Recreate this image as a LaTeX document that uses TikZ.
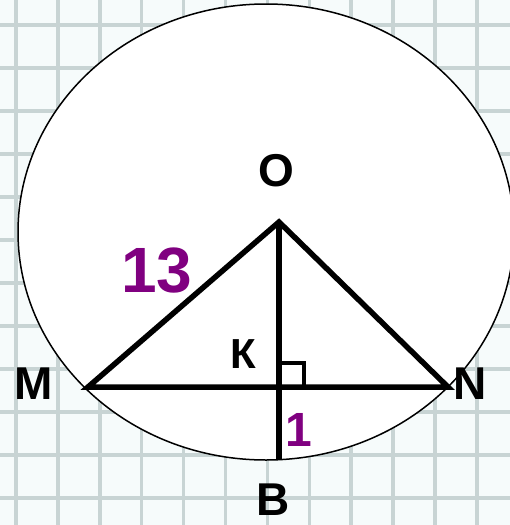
\documentclass[tikz,border=0pt]{standalone}
\usepackage{fontspec}
\setmainfont{Liberation Sans}
\usetikzlibrary{positioning,calc}
\definecolor{cellbg}{RGB}{246,251,251}
\definecolor{gridcol}{RGB}{200,212,212}
\definecolor{numcol}{RGB}{128,0,128}

\begin{document}
\begin{tikzpicture}[
  x=1pt, y=-1pt,
  gridline/.style={draw=gridcol, line width=3.5pt},
  seg/.style={line width=5.5pt, line join=miter},
  lbl/.style={inner sep=0pt, font=\bfseries\fontsize{46}{46}\selectfont},
  num/.style={inner sep=0pt, text=numcol, font=\bfseries\fontsize{#1}{#1}\selectfont},
]

% ================= squared paper =================
\useasboundingbox (0,0) rectangle (510,525);
\fill[cellbg] (0,0) rectangle (510,525);
\begin{scope}
  \clip (0,0) rectangle (510,525);
  \foreach \gx in {0,...,11}
    \draw[gridline] (16+41.9*\gx,0) -- (16+41.9*\gx,525);
  \foreach \gy in {0,...,11}
    \draw[gridline] (0,25+43*\gy) -- (510,25+43*\gy);

  % circle
  \draw[fill=white, line width=1.5pt] (266,232) ellipse [x radius=248pt, y radius=228pt];
\end{scope}

% ================= points =================
\coordinate (O) at (279,222);
\coordinate (M) at (88,387);
\coordinate (N) at (448,387);
\coordinate (K) at (279,387);
\coordinate (B) at (279,460);

% triangle and altitude
\draw[seg] (M) -- (O) -- (N) -- cycle;
\draw[seg] (O) -- (B);
% right angle mark
\draw[line width=4pt] ($(K)+(0,-24)$) -| ($(K)+(25,0)$);

% ================= labels =================
\node[lbl] (labO) at (276,171) {O};
\node[lbl] (labM) at (34,384) {M};
\node[lbl] (labN) at (470,384) {N};
\node[lbl, font=\bfseries\fontsize{42}{42}\selectfont] (labK) at (243,354) {К};
\node[lbl] (labB) at (273,500) {B};
\node[num=64] (len13) at (157,271) {13};
\node[num=48] (len1) at (299,430) {1};

\end{tikzpicture}
\end{document}
